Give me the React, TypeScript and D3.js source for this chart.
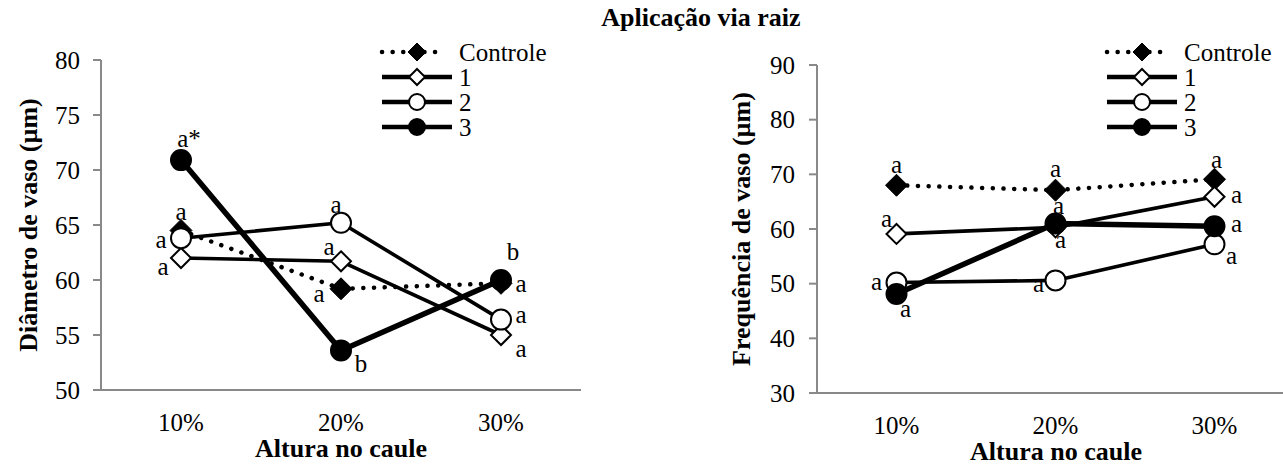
import React from "react";
import * as d3 from "d3";

// Categories along the stem and series names
const categories = ["10%", "20%", "30%"];
const seriesNames = ["Controle", "1", "2", "3"];

// Vessel diameter (µm)
const diamControle = [64.5, 59.2, 59.7];
const diam1 = [62.0, 61.7, 55.0];
const diam2 = [63.8, 65.2, 56.4];
const diam3 = [70.9, 53.6, 60.0];
const diamTicks = [50, 55, 60, 65, 70, 75, 80];

// Vessel frequency
const freqControle = [68.0, 67.1, 69.1];
const freq1 = [59.1, 60.3, 65.9];
const freq2 = [50.2, 50.6, 57.2];
const freq3 = [48.1, 61.0, 60.5];
const freqTicks = [30, 40, 50, 60, 70, 80, 90];

// Significance letters, one per category
const diamLetControle = ["a", "a", "a"];
const diamLet1 = ["a", "a", "a"];
const diamLet2 = ["a", "a", "a"];
const diamLet3 = ["a*", "b", "b"];
const freqLetControle = ["a", "a", "a"];
const freqLet1 = ["a", "a", "a"];
const freqLet2 = ["a", "a", "a"];
const freqLet3 = ["a", "a", "a"];

type Offset = [number, number];

// Letter placement relative to each marker [dx, dy to baseline], per series then category
const diamLabelOffsets: Offset[][] = [
  [[0, -11], [-22, 13], [20, 9]],
  [[-18, 17], [-12, -6], [20, 22]],
  [[-20, 10], [-5, -10], [20, 3]],
  [[8, -13], [20, 22], [12, -20]],
];
const freqLabelOffsets: Offset[][] = [
  [[0, -12], [0, -13], [2, -11]],
  [[-10, -7], [5, 21], [22, 6]],
  [[-20, 7], [-17, 12], [17, 20]],
  [[9, 23], [3, -10], [22, 6]],
];

const FONT = "Liberation Serif";
const AXIS = "#898989";
const REG = 25;
const BOLD = 26;

type Style = {
  width: number;
  dash?: string;
  marker: "diamond" | "circle";
  fill: string;
  size: number;
  legendSize: number;
};

const styles: Style[] = [
  { width: 4.5, dash: "0.1 10.6", marker: "diamond", fill: "#000", size: 11, legendSize: 9 },
  { width: 3.6, marker: "diamond", fill: "#fff", size: 10, legendSize: 8 },
  { width: 3.6, marker: "circle", fill: "#fff", size: 10, legendSize: 8 },
  { width: 5.5, marker: "circle", fill: "#000", size: 10, legendSize: 8 },
];

function T(props: React.SVGProps<SVGTextElement> & { size: number; bold?: boolean }) {
  const { size, bold, children, ...rest } = props;
  return (
    <text {...rest} style={{ fontFamily: FONT, fontSize: size, fontWeight: bold ? 700 : 400 }}>
      {children}
    </text>
  );
}

function Marker({ x, y, s, size }: { x: number; y: number; s: Style; size: number }) {
  if (s.marker === "circle") {
    return <circle cx={x} cy={y} r={size} fill={s.fill} stroke="#000" strokeWidth={2} />;
  }
  const d = `M${x},${y - size}L${x + size},${y}L${x},${y + size}L${x - size},${y}Z`;
  return <path d={d} fill={s.fill} stroke="#000" strokeWidth={s.fill === "#000" ? 1 : 2} strokeLinejoin="miter" />;
}

type PanelProps = {
  left: number;
  right: number;
  top: number;
  bottom: number;
  domain: [number, number];
  ticks: number[];
  values: number[][];
  letters: string[][];
  offsets: Offset[][];
  yTitle: string;
  yTitleX: number;
  tickRight: number;
  legendX: number;
  xTitleX: number;
};

function Panel(p: PanelProps) {
  const x = d3.scaleBand<string>().domain(categories).range([p.left, p.right]).padding(0);
  const y = d3.scaleLinear().domain(p.domain).range([p.bottom, p.top]);
  const cx = (c: string) => (x(c) ?? 0) + x.bandwidth() / 2;
  const line = d3
    .line<number>()
    .x((_, i) => cx(categories[i]))
    .y((v) => y(v));

  const midY = (p.top + p.bottom) / 2;

  return (
    <g>
      {/* axes */}
      <line x1={p.left} x2={p.left} y1={p.top} y2={p.bottom} stroke={AXIS} strokeWidth={2} />
      <line x1={p.left - 8} x2={p.right} y1={p.bottom} y2={p.bottom} stroke={AXIS} strokeWidth={2} />
      {p.ticks.map((t) => (
        <g key={t}>
          <line x1={p.left - 8} x2={p.left} y1={y(t)} y2={y(t)} stroke={AXIS} strokeWidth={2} />
          <T x={p.tickRight} y={y(t)} dy="0.35em" textAnchor="end" size={REG}>
            {String(t)}
          </T>
        </g>
      ))}
      {categories.map((c) => (
        <T key={c} x={cx(c)} y={p.bottom + 41} textAnchor="middle" size={REG}>
          {c}
        </T>
      ))}
      <T x={p.xTitleX} y={p.bottom + 67} textAnchor="middle" size={BOLD} bold>
        Altura no caule
      </T>
      <T
        transform={`translate(${p.yTitleX},${midY}) rotate(-90)`}
        textAnchor="middle"
        dy="0.35em"
        size={BOLD}
        bold
      >
        {p.yTitle}
      </T>

      {/* series lines */}
      {p.values.map((vals, si) => (
        <path
          key={"l" + si}
          d={line(vals) ?? ""}
          fill="none"
          stroke="#000"
          strokeWidth={styles[si].width}
          strokeDasharray={styles[si].dash}
          strokeLinecap={styles[si].dash ? "round" : "butt"}
          strokeLinejoin="round"
        />
      ))}
      {/* markers, drawn per series so later series sit on top */}
      {p.values.map((vals, si) => (
        <g key={"m" + si}>
          {vals.map((v, i) => (
            <Marker key={i} x={cx(categories[i])} y={y(v)} s={styles[si]} size={styles[si].size} />
          ))}
        </g>
      ))}
      {/* significance letters */}
      {p.values.map((vals, si) =>
        vals.map((v, i) => (
          <T
            key={`t${si}-${i}`}
            x={cx(categories[i]) + p.offsets[si][i][0]}
            y={y(v) + p.offsets[si][i][1]}
            textAnchor="middle"
            size={REG}
          >
            {p.letters[si][i]}
          </T>
        ))
      )}

      {/* legend */}
      {seriesNames.map((name, si) => {
        const ly = 52 + si * 25;
        const s = styles[si];
        const x0 = p.legendX;
        const x1 = p.legendX + (s.dash ? 62 : 70);
        return (
          <g key={name}>
            <line
              x1={x0}
              x2={x1}
              y1={ly}
              y2={ly}
              stroke="#000"
              strokeWidth={4.5}
              strokeDasharray={s.dash ? "0.1 10.5" : undefined}
              strokeLinecap={s.dash ? "round" : "butt"}
            />
            <Marker x={p.legendX + 35} y={ly} s={s} size={s.legendSize} />
            <T x={p.legendX + 77} y={ly} dy="0.35em" size={REG}>
              {name}
            </T>
          </g>
        );
      })}
    </g>
  );
}

export default function App() {
  return (
    <svg
      width={1283}
      height={471}
      style={{ position: "absolute", left: 0, top: 0, background: "#fff" }}
    >
      <rect width={1283} height={471} fill="#fff" />
      <T x={701} y={26} textAnchor="middle" size={BOLD} bold>
        Aplicação via raiz
      </T>
      <Panel
        left={101}
        right={581}
        top={60}
        bottom={390}
        domain={[50, 80]}
        ticks={diamTicks}
        values={[diamControle, diam1, diam2, diam3]}
        letters={[diamLetControle, diamLet1, diamLet2, diamLet3]}
        offsets={diamLabelOffsets}
        yTitle="Diâmetro de vaso (µm)"
        yTitleX={28}
        tickRight={80}
        legendX={382}
        xTitleX={341}
      />
      <Panel
        left={817}
        right={1294}
        top={65}
        bottom={393}
        domain={[30, 90]}
        ticks={freqTicks}
        values={[freqControle, freq1, freq2, freq3]}
        letters={[freqLetControle, freqLet1, freqLet2, freqLet3]}
        offsets={freqLabelOffsets}
        yTitle="Frequência de vaso (µm)"
        yTitleX={741}
        tickRight={795}
        legendX={1107}
        xTitleX={1056}
      />
    </svg>
  );
}
